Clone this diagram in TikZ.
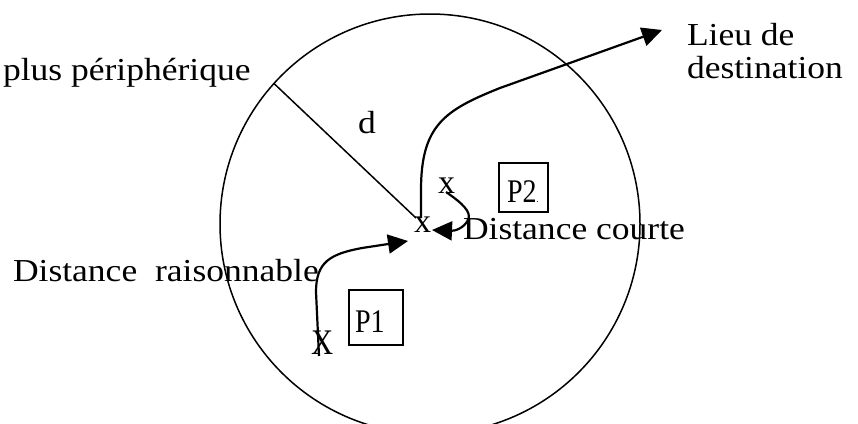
\documentclass[tikz,border=0pt]{standalone}
\usepackage{fontspec}
\setmainfont[FakeStretch=1.11]{Liberation Serif}
\newfontfamily\markfont{Liberation Serif}
\newfontfamily\narrowfont[FakeStretch=0.85]{Liberation Serif}
\usetikzlibrary{arrows.meta}
\begin{document}
\begin{tikzpicture}[x=1pt,y=-1pt,
  lbl/.style={anchor=base west, inner sep=0pt, outer sep=0pt, font=\fontsize{32}{38}\selectfont},
  plbl/.style={anchor=base west, inner sep=0pt, outer sep=0pt, font=\narrowfont\fontsize{33}{36}\selectfont},
  xlbl/.style={anchor=base west, inner sep=0pt, outer sep=0pt, font=\markfont\fontsize{34}{36}\selectfont},
  boxp/.style={draw, line width=1.2pt, inner sep=0pt, outer sep=0pt},
  arr/.style={line width=2.2pt, -{Triangle[length=20pt,width=19pt]}},
  ]
\useasboundingbox (0,0) rectangle (858,423);
% zone circle
\node[circle, draw, line width=1.5pt, minimum size=420pt, inner sep=0pt, outer sep=0pt] (zone) at (430,224) {};
% texts
\node[lbl] (peri) at (3,80) {plus périphérique};
\node[lbl] (dlab) at (358,133) {d};
\node[lbl] (lieu) at (687,45) {Lieu de};
\node[lbl] (dest) at (687,78) {destination};
\node[lbl] (raison) at (13,281) {Distance\ \ raisonnable};
\node[lbl] (courte) at (463,239) {Distance courte};
\node[xlbl] (xc) at (414,232) {x};
\node[xlbl] (xu) at (438,193) {x};
\node[plbl, font=\narrowfont\fontsize{36}{38}\selectfont] (xl) at (311,354) {X};
% boxes
\node[boxp, minimum width=54pt, minimum height=55pt] (p1) at (376,317.5) {};
\node[boxp, minimum width=49pt, minimum height=49pt] (p2) at (523.5,187.5) {};
\node[plbl] (p1t) at (355,332) {P1};
\node[plbl] (p2t) at (507,202) {P2{\fontsize{10}{10}\selectfont.}};
% radius
\coordinate (rend) at (416,218);
\draw[line width=1.5pt] (zone.138) -- (rend);
% arrows
\coordinate (a1s) at (421,218);
\coordinate (a1e) at (662,30);
\draw[arr] (a1s) -- (421,190) .. controls (421,125) and (445,110) .. (500,88) -- (a1e);
\coordinate (a2s) at (446,192);
\coordinate (a2e) at (432,230);
\draw[arr] (a2s) .. controls (462,203) and (472,212) .. (468,220) .. controls (464,228) and (455,231) .. (a2e);
\coordinate (a3s) at (319,356);
\coordinate (a3e) at (408,241);
\draw[arr] (a3s) -- (316,292) .. controls (316,262) and (330,254) .. (362,248) -- (a3e);
\end{tikzpicture}
\end{document}
